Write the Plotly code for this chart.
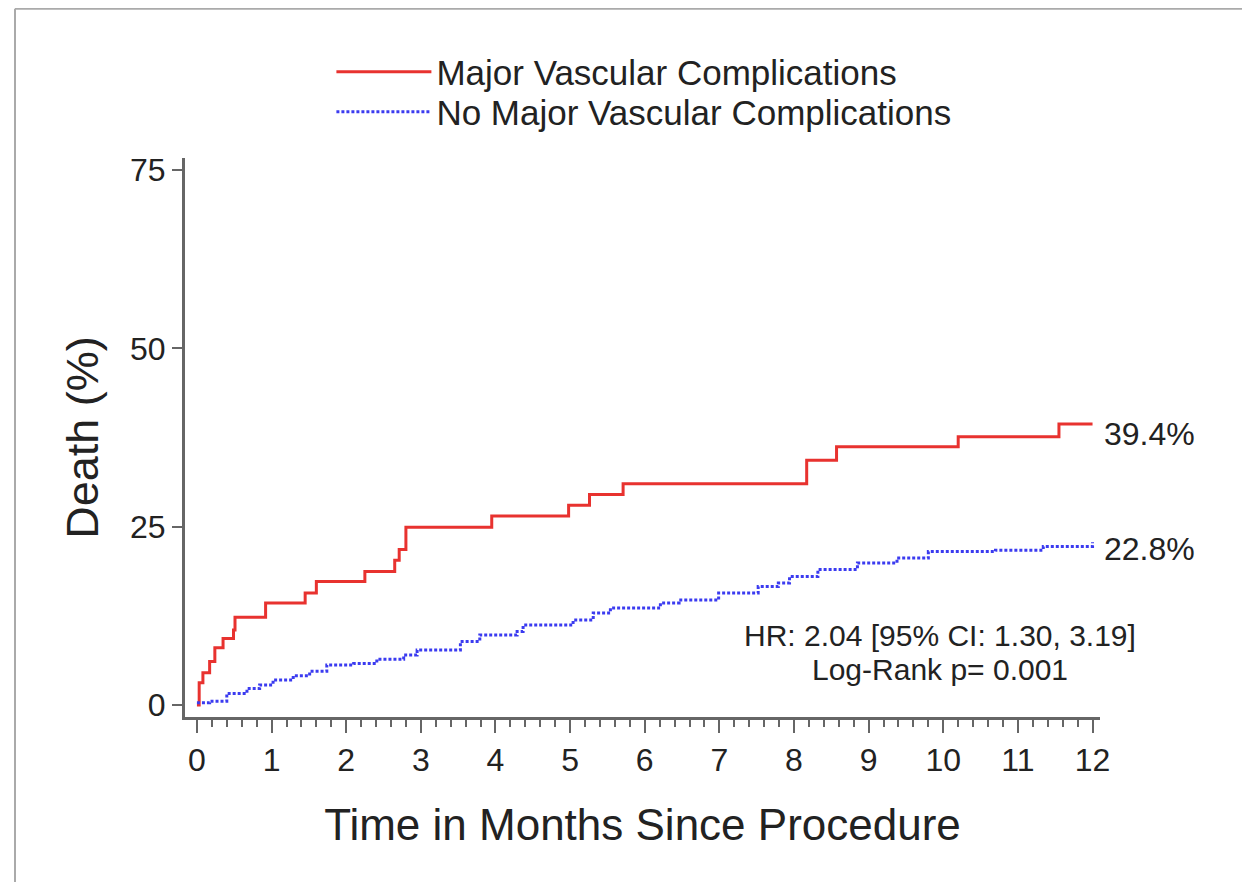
import plotly.graph_objects as go

# ---- data ----
mvc_months = [0, 0.03, 0.08, 0.17, 0.24, 0.35, 0.49, 0.51, 0.92, 1.45, 1.60, 2.25, 2.65, 2.71,
              2.80, 3.95, 4.98, 5.26, 5.71, 8.17, 8.57, 10.20, 11.55, 12.0]
mvc_death = [0, 3.1, 4.5, 6.1, 8.0, 9.3, 10.5, 12.3, 14.3, 15.7, 17.3, 18.7, 20.3, 21.8,
             24.9, 26.5, 28.0, 29.5, 31.0, 34.3, 36.2, 37.6, 39.4, 39.4]

nomvc_months = [0, 0.17, 0.40, 0.67, 0.84, 1.02, 1.29, 1.51, 1.74, 2.10, 2.41, 2.77, 2.95, 3.26,
                3.53, 3.79, 4.29, 4.37, 5.04, 5.31, 5.54, 5.94, 6.21, 6.46, 6.99, 7.52, 7.79,
                7.94, 8.32, 8.85, 9.38, 9.80, 10.70, 11.34, 12.0]
nomvc_death = [0.3, 0.5, 1.6, 2.3, 2.8, 3.5, 4.1, 4.7, 5.6, 5.8, 6.4, 7.0, 7.7, 7.7,
               8.9, 9.8, 10.3, 11.2, 11.9, 12.9, 13.6, 13.6, 14.3, 14.7, 15.7, 16.6, 17.1,
               18.0, 19.0, 19.9, 20.6, 21.5, 21.7, 22.2, 22.8]

series_names = ["Major Vascular Complications", "No Major Vascular Complications"]
x_ticks = list(range(0, 13))
y_ticks = [0, 25, 50, 75]
stats_lines = ["HR: 2.04 [95% CI: 1.30, 3.19]", "Log-Rank p= 0.001"]

FONT = "Liberation Sans, Arial, sans-serif"
TXT = "#222222"
AX = "#666666"

W, H = 1242, 874
ML, MT = 177, 150
PW, PH = 915, 559

fig = go.Figure()
fig.add_trace(go.Scatter(
    x=mvc_months, y=mvc_death, mode="lines", name=series_names[0],
    line=dict(color="#e8322f", width=3, shape="hv"), legend="legend"))
fig.add_trace(go.Scatter(
    x=nomvc_months, y=nomvc_death, mode="lines", name=series_names[1],
    line=dict(color="#3b3bf0", width=3, shape="hv", dash="3px,2px"), legend="legend2"))

# end-of-curve labels
fig.add_annotation(x=mvc_months[-1], y=mvc_death[-1], text=f"{mvc_death[-1]:.1f}%",
                   xanchor="left", yanchor="middle", xshift=9, yshift=-10,
                   showarrow=False, font=dict(family=FONT, size=32, color=TXT))
fig.add_annotation(x=nomvc_months[-1], y=nomvc_death[-1], text=f"{nomvc_death[-1]:.1f}%",
                   xanchor="left", yanchor="middle", xshift=9, yshift=-7,
                   showarrow=False, font=dict(family=FONT, size=32, color=TXT))
fig.add_annotation(x=9.95, y=9.8, text=stats_lines[0], xanchor="center", yanchor="middle",
                   showarrow=False, font=dict(family=FONT, size=30, color=TXT))
fig.add_annotation(x=9.95, y=5.0, text=stats_lines[1], xanchor="center", yanchor="middle",
                   showarrow=False, font=dict(family=FONT, size=30, color=TXT))

# decorative page frame (top and left edges)
fx = (7 - ML) / PW
fy_top = (MT + PH - 0.8) / PH
fy_bot = (MT + PH - H) / PH
fig.add_shape(type="line", xref="paper", yref="paper", x0=fx, x1=(W - ML) / PW,
              y0=fy_top, y1=fy_top, line=dict(color="#aaaaaa", width=2))
fig.add_shape(type="line", xref="paper", yref="paper", x0=fx, x1=fx, y0=fy_top, y1=fy_bot,
              line=dict(color="#aaaaaa", width=2))

legend_common = dict(font=dict(family=FONT, size=35, color=TXT), bgcolor="rgba(0,0,0,0)",
                     itemwidth=95, xanchor="left", yanchor="middle", borderwidth=0)
fig.update_layout(
    width=W, height=H,
    margin=dict(l=ML, r=W - ML - PW, t=MT, b=H - MT - PH),
    paper_bgcolor="white", plot_bgcolor="white",
    font=dict(family=FONT, color=TXT),
    legend=dict(x=0.160, y=(PH + MT - 72 + 8) / PH, **legend_common),
    legend2=dict(x=0.160, y=(PH + MT - 112 + 8) / PH, **legend_common),
    showlegend=True,
    xaxis=dict(range=[-0.16, 12.1], tickvals=x_ticks, ticktext=[str(v) for v in x_ticks],
               showline=True, linecolor=AX, linewidth=3, ticks="outside", ticklen=13,
               tickwidth=2, tickcolor=AX, showgrid=False, zeroline=False,
               tickfont=dict(family=FONT, size=32, color=TXT),
               minor=dict(dtick=0.2, tick0=0, ticks="outside", ticklen=7, tickwidth=2,
                          tickcolor=AX, showgrid=False),
               title=dict(text="Time in Months Since Procedure",
                          font=dict(family=FONT, size=44, color=TXT), standoff=32)),
    yaxis=dict(range=[-1.7, 76.7], tickvals=y_ticks, ticktext=[str(v) for v in y_ticks],
               showline=True, linecolor=AX, linewidth=3, ticks="outside", ticklen=10,
               tickwidth=2, tickcolor=AX, showgrid=False, zeroline=False,
               tickfont=dict(family=FONT, size=32, color=TXT),
               title=dict(text="Death (%)", font=dict(family=FONT, size=45, color=TXT),
                          standoff=18)),
)

fig.write_html("out.html")
